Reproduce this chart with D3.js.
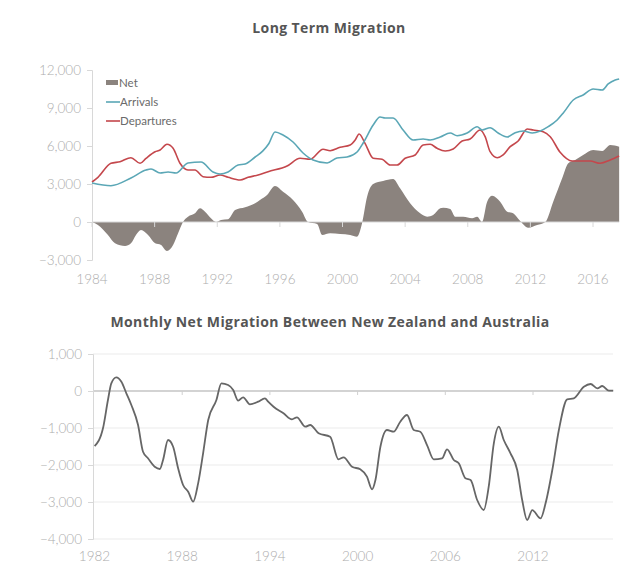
<!DOCTYPE html>
<html><head><meta charset="utf-8">
<script src="https://cdn.jsdelivr.net/npm/d3@7"></script>
<style>body{margin:0;background:#fff}svg{display:block}</style>
</head><body>
<script>
// ---- Top chart data (Long Term Migration) ----
const arrivalsYear = [1984.0,1985.21,1986.49,1987.45,1987.77,1988.35,1988.86,1989.37,1990.13,1990.96,1991.73,1992.18,1992.69,1993.33,1993.78,1994.42,1994.9,1995.3,1995.69,1996.2,1996.84,1997.48,1998.12,1999.02,1999.65,2000.29,2000.93,2001.32,2001.96,2002.4,2002.72,2003.23,2003.87,2004.51,2005.15,2005.6,2006.24,2006.88,2007.32,2007.96,2008.6,2008.92,2009.43,2009.94,2010.52,2011.03,2011.54,2012.12,2012.63,2013.14,2013.71,2014.1,2014.74,2015.37,2016.01,2016.59,2016.97,2017.42,2017.67];
const arrivals = [3080,2866,3474,4105,4184,3868,3947,3868,4658,4737,3947,3790,3947,4500,4579,5132,5600,6200,7106,6869,6316,5448,4895,4658,5053,5132,5527,6237,7658,8290,8211,8211,7263,6474,6553,6474,6711,7027,6813,7027,7524,7263,7445,7027,6711,7050,7184,7027,7184,7524,8053,8606,9632,10027,10500,10421,10895,11211,11290];

const departuresYear = [1984.0,1984.38,1985.21,1985.79,1986.49,1987.07,1987.45,1988.03,1988.35,1988.79,1989.18,1989.62,1990.13,1990.58,1991.09,1991.6,1992.18,1992.69,1993.46,1993.97,1994.61,1995.25,1996.46,1997.29,1997.93,1998.76,1999.21,1999.85,2000.49,2000.81,2001.06,2001.44,2001.96,2002.53,2003.04,2003.49,2004.0,2004.64,2005.15,2005.6,2006.04,2006.56,2007.07,2007.64,2008.15,2008.79,2009.11,2009.43,2009.88,2010.26,2010.71,2011.22,2011.8,2012.18,2012.82,2013.27,2013.9,2014.67,2015.31,2015.82,2016.46,2017.1,2017.67];
const departures = [3158,3529,4634,4761,5076,4634,5029,5550,5684,6134,5818,4634,4105,4105,3576,3529,3711,3529,3316,3529,3711,3971,4421,5029,4950,5740,5629,5898,6079,6474,6948,6213,5029,4950,4500,4500,5029,5290,6079,6134,5818,5605,5763,6395,6553,7263,6734,5550,5076,5290,5945,6395,7342,7263,7129,6734,5503,4816,4816,4816,4634,4895,5211];

const netYear = [1984.0,1984.38,1985.02,1985.47,1986.11,1986.49,1986.81,1987.13,1987.58,1988.03,1988.41,1988.79,1989.18,1989.5,1989.81,1990.13,1990.58,1990.9,1991.22,1991.6,1991.92,1992.24,1992.69,1993.14,1993.78,1994.42,1994.73,1995.18,1995.69,1996.2,1996.84,1997.42,1997.8,1998.38,1998.7,1999.21,1999.85,2000.49,2000.93,2001.25,2001.57,2001.96,2002.59,2003.23,2003.68,2004.32,2004.96,2005.41,2005.79,2006.24,2006.43,2006.88,2007.2,2007.71,2008.28,2008.6,2008.92,2009.24,2009.56,2010.07,2010.52,2010.9,2011.35,2011.86,2012.43,2012.95,2013.46,2014.03,2014.42,2014.86,2015.37,2016.01,2016.59,2017.1,2017.67];
const net = [0,-237,-1026,-1682,-1895,-1682,-1026,-632,-1026,-1682,-1816,-2290,-1816,-892,0,418,687,1082,813,292,0,158,213,947,1161,1476,1737,2132,2842,2392,1737,813,0,-158,-1026,-892,-947,-1026,-1161,-103,1997,3000,3237,3395,2661,1476,687,418,553,1082,1129,1026,418,418,292,418,0,1603,2076,1603,813,687,79,-450,-237,0,1603,3450,4634,4895,5290,5684,5605,6079,5945];

const topYTicks = [-3000,0,3000,6000,9000,12000];
const topXTicks = [1984,1988,1992,1996,2000,2004,2008,2012,2016];

// ---- Bottom chart data (Monthly Net Migration NZ-Australia) ----
const nzYear = [1982.01,1982.58,1982.92,1983.15,1983.49,1983.84,1984.18,1984.52,1984.98,1985.32,1985.66,1986.12,1986.47,1986.69,1987.03,1987.38,1987.72,1988.06,1988.41,1988.75,1989.09,1989.43,1989.78,1990.34,1990.68,1991.14,1991.49,1991.83,1992.17,1992.63,1993.2,1993.66,1993.88,1994.25,1994.93,1995.51,1995.85,1996.42,1996.76,1997.33,1998.12,1998.69,1999.04,1999.62,2000.18,2000.64,2000.99,2001.22,2001.56,2002.01,2002.47,2002.92,2003.38,2003.84,2004.29,2004.75,2005.21,2005.78,2006.12,2006.58,2006.92,2007.38,2007.73,2008.18,2008.63,2008.97,2009.32,2009.66,2010.0,2010.46,2010.92,2011.26,2011.6,2011.95,2012.52,2012.86,2013.32,2013.77,2014.34,2014.79,2015.48,2015.94,2016.4,2016.74,2017.19,2017.49];
const nzNet = [-1487,-1008,-243,208,370,251,-62,-378,-919,-1641,-1819,-2046,-2108,-1865,-1324,-1506,-2089,-2541,-2722,-2992,-2495,-1684,-784,-243,208,162,27,-262,-170,-360,-289,-197,-289,-424,-603,-765,-711,-965,-919,-1143,-1235,-1846,-1792,-2046,-2116,-2316,-2657,-2406,-1506,-1054,-1100,-830,-649,-1054,-1100,-1460,-1846,-1819,-1576,-1865,-1954,-2360,-2406,-2946,-3216,-2587,-1414,-965,-1324,-1684,-2135,-2946,-3487,-3217,-3441,-3035,-2135,-1054,-224,-197,116,189,73,135,8,8];

const botYTicks = [-4000,-3000,-2000,-1000,0,1000];
const botXTicks = [1982,1988,1994,2000,2006,2012];

// ---- Drawing ----
const W = 640, H = 582;
const svg = d3.select("body").append("svg").attr("width", W).attr("height", H);
const labelFont = "Lato, 'Open Sans', sans-serif";
const titleFont = "'Open Sans', Lato, sans-serif";
const fmt = d3.format(",");
const labelColor = "#adadad";
const titleColor = "#555";

function pairs(xs, ys){ return xs.map((x,i)=>[x, ys[i]]); }

// Top chart
const tx = d3.scaleLinear().domain([1984, 2016]).range([92, 593]);
const ty = d3.scaleLinear().domain([-3000, 12000]).range([260, 70]);

svg.append("text").attr("x", 329).attr("y", 33).attr("text-anchor","middle")
  .attr("font-family", titleFont).attr("font-weight", 700).attr("font-size", 14)
  .attr("letter-spacing", 0.4)
  .attr("fill", titleColor).text("Long Term Migration");

// Net area
svg.append("path").datum(pairs(netYear, net))
  .attr("fill", "#8b837e")
  .attr("d", d3.area().x(d=>tx(d[0])).y0(ty(0)).y1(d=>ty(d[1])).curve(d3.curveMonotoneX));

// zero line
svg.append("line").attr("x1", tx(1984)).attr("x2", tx(2017.67)).attr("y1", ty(0)).attr("y2", ty(0))
  .attr("stroke", "#d8d8d8").attr("stroke-width", 1.2);
svg.append("g").selectAll("line").data(topXTicks).join("line")
  .attr("x1", d=>tx(d)).attr("x2", d=>tx(d)).attr("y1", ty(0)).attr("y2", ty(0)+5)
  .attr("stroke", "#d8d8d8");

// y axis
const yAxisTop = svg.append("g").attr("transform", `translate(${tx(1984)},0)`)
  .call(d3.axisLeft(ty).tickValues(topYTicks).tickFormat(fmt).tickSize(5).tickPadding(6));
yAxisTop.select(".domain").attr("stroke", "#d8d8d8");
yAxisTop.selectAll(".tick line").attr("stroke", "#d8d8d8");
yAxisTop.selectAll("text").attr("font-family", labelFont).attr("font-weight", 300).attr("font-size", 13.5).attr("fill", labelColor);

svg.append("g").selectAll("text").data(topXTicks).join("text")
  .attr("x", d=>tx(d)).attr("y", 284).attr("text-anchor","middle")
  .attr("font-family", labelFont).attr("font-weight", 300).attr("font-size", 13.5).attr("fill", labelColor)
  .text(d=>d);

const lineGen = d3.line().x(d=>tx(d[0])).y(d=>ty(d[1])).curve(d3.curveMonotoneX);
svg.append("path").datum(pairs(departuresYear, departures)).attr("fill","none")
  .attr("stroke", "#c4474c").attr("stroke-width", 1.6).attr("d", lineGen);
svg.append("path").datum(pairs(arrivalsYear, arrivals)).attr("fill","none")
  .attr("stroke", "#5ba7b6").attr("stroke-width", 1.6).attr("d", lineGen);

// legend
const leg = svg.append("g").attr("font-family", labelFont).attr("font-size", 11.5).attr("fill", "#6a6a6a");
leg.append("rect").attr("x", 106).attr("y", 80).attr("width", 12).attr("height", 5).attr("fill", "#8b837e");
leg.append("text").attr("x", 119).attr("y", 87).text("Net");
leg.append("line").attr("x1", 106).attr("x2", 120).attr("y1", 102).attr("y2", 102).attr("stroke", "#5ba7b6").attr("stroke-width", 1.6);
leg.append("text").attr("x", 120).attr("y", 106).text("Arrivals");
leg.append("line").attr("x1", 106).attr("x2", 120).attr("y1", 121).attr("y2", 121).attr("stroke", "#c4474c").attr("stroke-width", 1.6);
leg.append("text").attr("x", 120).attr("y", 125).text("Departures");

// Bottom chart
const bx = d3.scaleLinear().domain([1982, 2012]).range([94.5, 533]);
const by = d3.scaleLinear().domain([-4000, 1000]).range([539, 354]);

svg.append("text").attr("x", 330).attr("y", 327).attr("text-anchor","middle")
  .attr("font-family", titleFont).attr("font-weight", 700).attr("font-size", 14)
  .attr("letter-spacing", 0.4)
  .attr("fill", titleColor).text("Monthly Net Migration Between New Zealand and Australia");

svg.append("g").selectAll("line").data(botYTicks.filter(d=>d!==0)).join("line")
  .attr("x1", 93).attr("x2", 613).attr("y1", d=>by(d)).attr("y2", d=>by(d))
  .attr("stroke", "#ececec").attr("stroke-width", 1.2);
svg.append("line").attr("x1", 93).attr("x2", 613).attr("y1", by(0)).attr("y2", by(0))
  .attr("stroke", "#c4c4c4").attr("stroke-width", 1.4);
svg.append("g").selectAll("line").data(botXTicks.slice(1)).join("line")
  .attr("x1", d=>bx(d)).attr("x2", d=>bx(d)).attr("y1", by(0)).attr("y2", by(0)+4)
  .attr("stroke", "#d0d0d0");

const yAxisBot = svg.append("g").attr("transform", "translate(93,0)")
  .call(d3.axisLeft(by).tickValues(botYTicks).tickFormat(fmt).tickSize(5).tickPadding(6));
yAxisBot.select(".domain").attr("stroke", "#d8d8d8");
yAxisBot.selectAll(".tick line").attr("stroke", "#d8d8d8");
yAxisBot.selectAll("text").attr("font-family", labelFont).attr("font-weight", 300).attr("font-size", 13.5).attr("fill", labelColor);

svg.append("g").selectAll("text").data(botXTicks).join("text")
  .attr("x", d=>bx(d)).attr("y", 561).attr("text-anchor","middle")
  .attr("font-family", labelFont).attr("font-weight", 300).attr("font-size", 13.5).attr("fill", labelColor)
  .text(d=>d);

svg.append("path").datum(pairs(nzYear, nzNet)).attr("fill","none")
  .attr("stroke", "#666").attr("stroke-width", 1.8)
  .attr("d", d3.line().x(d=>bx(d[0])).y(d=>by(d[1])).curve(d3.curveMonotoneX));
</script>
</body></html>
